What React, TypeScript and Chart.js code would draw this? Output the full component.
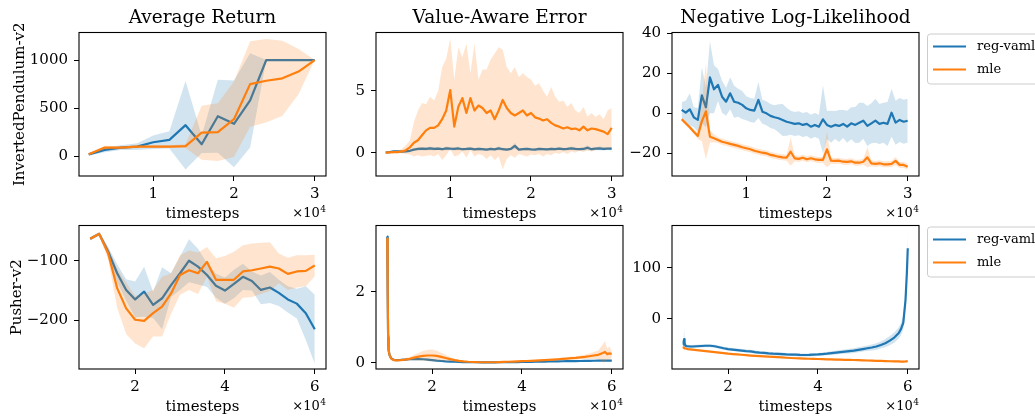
import React, { useEffect, useRef } from 'react';
import { Chart, registerables } from 'chart.js';

Chart.register(...registerables);

const FONT = "'DejaVu Serif', serif";
const BLUE = '#1f77b4';
const ORANGE = '#ff7f0e';
const BLUE_FILL = 'rgba(31,119,180,0.2)';
const ORANGE_FILL = 'rgba(255,127,14,0.2)';

const seriesNames = ['reg-vaml', 'mle'];
const panelTitles = ['Average Return', 'Value-Aware Error', 'Negative Log-Likelihood'];
const envNames = ['InvertedPendulum-v2', 'Pusher-v2'];
const xLabel = 'timesteps';
const xOffsetExp = '4';

// ---------- tick values ----------
const ipXTicks = [10000, 20000, 30000];
const puXTicks = [20000, 40000, 60000];
const retIpYTicks = [0, 500, 1000];
const vaeIpYTicks = [0, 5];
const nllIpYTicks = [-20, 0, 20, 40];
const retPuYTicks = [-200, -100];
const vaePuYTicks = [0, 2];
const nllPuYTicks = [0, 100];

// ---------- InvertedPendulum: Average Return ----------
const retIpX = [2000, 4000, 6000, 8000, 10000, 12000, 14000, 16000, 18000, 20000, 22000, 24000, 26000, 28000, 30000];
const retIpVaml = [20, 66, 90, 100, 146, 170, 323, 125, 416, 337, 580, 1000, 1000, 1000, 1000];
const retIpVamlStd = [15, 25, 25, 35, 70, 90, 460, 90, 380, 450, 490, 0, 0, 0, 0];
const retIpMle = [20, 90, 90, 100, 100, 100, 105, 245, 250, 385, 750, 785, 810, 880, 1000];
const retIpMleStd = [10, 20, 15, 15, 15, 15, 20, 280, 300, 392, 444, 433, 390, 235, 0];

// ---------- InvertedPendulum: dense x ----------
const ipDenseX = [2000, 2500, 3000, 3500, 4000, 4500, 5000, 5500, 6000, 6500, 7000, 7500, 8000, 8500, 9000, 9500, 10000, 10500, 11000, 11500, 12000, 12500, 13000, 13500, 14000, 14500, 15000, 15500, 16000, 16500, 17000, 17500, 18000, 18500, 19000, 19500, 20000, 20500, 21000, 21500, 22000, 22500, 23000, 23500, 24000, 24500, 25000, 25500, 26000, 26500, 27000, 27500, 28000, 28500, 29000, 29500, 30000];

// Value-Aware Error (InvertedPendulum)
const vaeIpVaml = [0.0, 0.05, 0.1, 0.1, 0.08, 0.1, 0.15, 0.25, 0.3, 0.32, 0.3, 0.35, 0.3, 0.33, 0.28, 0.35, 0.32, 0.3, 0.34, 0.28, 0.3, 0.33, 0.27, 0.3, 0.28, 0.25, 0.3, 0.27, 0.35, 0.28, 0.25, 0.3, 0.55, 0.25, 0.28, 0.3, 0.27, 0.25, 0.3, 0.28, 0.26, 0.3, 0.28, 0.33, 0.28, 0.3, 0.35, 0.3, 0.28, 0.3, 0.4, 0.28, 0.32, 0.35, 0.3, 0.33, 0.32];
const vaeIpVamlStd = [0.02, 0.03, 0.05, 0.05, 0.05, 0.06, 0.08, 0.1, 0.12, 0.12, 0.12, 0.15, 0.12, 0.12, 0.1, 0.15, 0.12, 0.12, 0.14, 0.1, 0.12, 0.12, 0.1, 0.12, 0.1, 0.1, 0.12, 0.1, 0.15, 0.12, 0.1, 0.1, 0.25, 0.1, 0.1, 0.12, 0.1, 0.1, 0.12, 0.1, 0.1, 0.12, 0.1, 0.12, 0.1, 0.12, 0.15, 0.12, 0.1, 0.12, 0.2, 0.1, 0.12, 0.15, 0.12, 0.12, 0.12];
const vaeIpMle = [0.0, 0.03, 0.05, 0.05, 0.1, 0.2, 0.43, 0.8, 1.0, 1.4, 1.8, 2.0, 2.0, 2.2, 2.7, 3.4, 5.05, 2.1, 3.7, 4.4, 3.2, 4.4, 3.4, 3.8, 3.6, 3.2, 3.4, 2.7, 3.4, 4.25, 3.6, 3.2, 3.0, 3.2, 3.4, 3.0, 3.2, 2.85, 2.75, 2.6, 2.7, 2.4, 2.2, 2.1, 1.95, 2.05, 1.9, 1.95, 1.8, 2.1, 1.8, 1.95, 1.9, 1.8, 1.7, 1.5, 2.0];
const vaeIpMleHi = [0.1, 0.1, 0.15, 0.15, 0.3, 0.6, 1.0, 2.5, 3.4, 4.0, 3.9, 4.5, 4.2, 5.0, 6.9, 7.6, 9.2, 5.9, 8.5, 7.7, 8.8, 6.4, 8.8, 5.9, 6.7, 6.7, 7.5, 8.0, 8.5, 8.3, 6.9, 6.4, 6.9, 6.1, 6.4, 6.1, 5.9, 5.4, 5.6, 5.0, 4.5, 5.3, 4.5, 4.1, 4.2, 3.7, 4.0, 3.4, 3.2, 3.7, 2.9, 3.2, 2.9, 3.1, 2.7, 3.4, 3.6];
const vaeIpMleLo = [-0.05, -0.05, -0.05, -0.05, -0.05, -0.1, -0.15, -0.3, -0.2, -0.3, -0.25, -0.2, -0.3, -0.1, -0.6, -0.2, 0.3, -0.3, -0.2, 0.1, -0.4, 0.2, -0.3, -0.1, -0.2, -0.5, -0.2, -0.6, -0.3, -1.35, -0.5, -0.2, -0.4, -0.1, -0.2, -0.3, -0.15, -0.2, -0.1, -0.3, -0.1, -0.2, 0.0, -0.1, 0.05, -0.1, 0.1, 0.0, 0.15, 0.05, 0.2, 0.1, 0.2, 0.25, 0.3, 0.2, 0.4];

// Negative Log-Likelihood (InvertedPendulum)
const nllIpVaml = [1.7, 0.3, 2.0, -2.0, -3.3, 9.0, 3.0, 18.0, 12.0, 14.2, 8.3, 5.8, 10.0, 5.8, 5.3, 4.2, 2.5, 1.7, 1.3, 6.7, 0.8, 0.0, -1.3, -2.0, -2.5, -3.3, -4.2, -4.7, -5.3, -5.0, -5.8, -5.3, -6.7, -5.8, -6.7, -3.0, -5.8, -6.7, -5.8, -6.3, -5.3, -6.7, -5.0, -5.8, -4.7, -3.7, -6.3, -5.0, -3.7, -5.3, -4.7, -5.3, 0.3, -4.7, -3.3, -4.2, -3.7];
const nllIpVamlStd = [4, 6, 8, 5, 6, 14, 10, 18, 12, 8, 8, 7, 8, 8, 7, 7, 6, 6, 6, 9, 6, 6, 6, 6, 7, 8, 7, 6, 6, 6, 6, 6, 6, 6, 6, 17, 7, 8, 7, 8, 7, 8, 8, 9, 10, 9, 10, 10, 11, 10, 10, 11, 12, 11, 11, 11, 11];
const nllIpMle = [-3, -5, -7, -9.2, -11.3, -4, 1, -11.7, -12.5, -13.3, -14.2, -14.7, -15.3, -15.8, -16.3, -17, -17.5, -18, -18.7, -19.2, -19.7, -20, -20.8, -21.2, -21.7, -22, -22.2, -19.2, -22.5, -22.8, -22.2, -23, -22.5, -23, -23.3, -23.3, -18, -23.7, -23.8, -23.7, -24.2, -24.3, -24, -24.7, -24.7, -24.2, -22, -25, -25.3, -25, -25.5, -25.5, -25.3, -23.8, -25.8, -25.8, -26.7];
const nllIpMleStd = [1, 1, 1, 1.2, 1.5, 10, 24, 3, 2, 1.5, 1.5, 1.5, 1.5, 1.5, 1.5, 1.5, 1.5, 1.5, 1.5, 1.5, 1.5, 1.5, 1.5, 1.5, 1.5, 1.5, 1.5, 7, 1.5, 1.5, 1.5, 1.5, 1.5, 1.5, 1.5, 1.5, 9, 1.5, 1.5, 1.5, 1.5, 1.5, 1.5, 1.5, 1.5, 1.5, 5, 1.5, 1.5, 1.5, 1.5, 1.5, 1.5, 2, 1.5, 1.5, 1.5];

// ---------- Pusher: Average Return ----------
const retPuX = [10000, 12000, 14000, 16000, 18000, 20000, 22000, 24000, 26000, 28000, 30000, 32000, 34000, 36000, 38000, 40000, 42000, 44000, 46000, 48000, 50000, 52000, 54000, 56000, 58000, 60000];
const retPuVaml = [-63, -55, -85, -121, -149, -165, -152, -174, -163, -141, -121, -100, -110, -124, -142, -150, -139, -127, -134, -149, -145, -154, -165, -172, -188, -215];
const retPuVamlStd = [3, 3, 8, 15, 18, 30, 42, 22, 52, 20, 28, 36, 30, 20, 20, 22, 24, 22, 16, 24, 26, 22, 22, 25, 45, 58];
const retPuMle = [-63, -55, -88, -146, -180, -199, -201, -188, -177, -155, -124, -116, -121, -102, -132, -132, -132, -118, -116, -113, -110, -113, -122, -118, -117, -108];
const retPuMleStd = [2, 3, 10, 33, 43, 40, 46, 39, 50, 34, 33, 33, 35, 25, 36, 40, 47, 44, 45, 43, 41, 25, 27, 27, 26, 18];

// ---------- Pusher: dense x ----------
const puDenseX = [10000, 10100, 10200, 10300, 10500, 10750, 11000, 11500, 12000, 13000, 14000, 15000, 16000, 17000, 18000, 19000, 20000, 21000, 22000, 23000, 24000, 25000, 26000, 27000, 28000, 29000, 30000, 31000, 32000, 33000, 34000, 35000, 36000, 37000, 38000, 39000, 40000, 41000, 42000, 43000, 44000, 45000, 46000, 47000, 48000, 49000, 50000, 51000, 52000, 53000, 54000, 55000, 56000, 57000, 58000, 58500, 59000, 59500, 59800, 60000];

// Value-Aware Error (Pusher)
const vaePuVaml = [3.55, 2.0, 0.7, 0.35, 0.22, 0.15, 0.11, 0.08, 0.07, 0.075, 0.085, 0.095, 0.1, 0.1, 0.095, 0.085, 0.07, 0.055, 0.045, 0.035, 0.03, 0.025, 0.02, 0.015, 0.012, 0.01, 0.01, 0.008, 0.008, 0.008, 0.008, 0.01, 0.01, 0.012, 0.014, 0.016, 0.018, 0.02, 0.022, 0.025, 0.028, 0.03, 0.032, 0.034, 0.036, 0.038, 0.04, 0.042, 0.044, 0.046, 0.048, 0.05, 0.052, 0.054, 0.056, 0.057, 0.058, 0.058, 0.058, 0.058];
const vaePuVamlStd = [0.1, 0.08, 0.05, 0.03, 0.02, 0.02, 0.015, 0.015, 0.015, 0.015, 0.015, 0.015, 0.015, 0.015, 0.015, 0.015, 0.015, 0.012, 0.012, 0.012, 0.012, 0.012, 0.012, 0.012, 0.012, 0.012, 0.012, 0.012, 0.012, 0.012, 0.012, 0.012, 0.012, 0.012, 0.012, 0.012, 0.012, 0.012, 0.012, 0.012, 0.012, 0.012, 0.012, 0.012, 0.012, 0.012, 0.012, 0.012, 0.012, 0.012, 0.012, 0.012, 0.012, 0.012, 0.012, 0.012, 0.012, 0.012, 0.012, 0.012];
const vaePuMle = [3.5, 2.0, 0.75, 0.38, 0.22, 0.14, 0.1, 0.07, 0.065, 0.07, 0.085, 0.11, 0.14, 0.17, 0.19, 0.2, 0.2, 0.19, 0.16, 0.13, 0.1, 0.07, 0.05, 0.035, 0.025, 0.018, 0.012, 0.01, 0.01, 0.01, 0.01, 0.015, 0.02, 0.025, 0.03, 0.035, 0.04, 0.045, 0.05, 0.055, 0.062, 0.07, 0.078, 0.087, 0.095, 0.105, 0.115, 0.125, 0.135, 0.15, 0.16, 0.18, 0.2, 0.22, 0.27, 0.3, 0.24, 0.26, 0.25, 0.25];
const vaePuMleStd = [0.12, 0.1, 0.05, 0.03, 0.03, 0.03, 0.025, 0.02, 0.02, 0.025, 0.035, 0.05, 0.08, 0.11, 0.14, 0.16, 0.17, 0.15, 0.12, 0.09, 0.06, 0.04, 0.025, 0.015, 0.012, 0.01, 0.01, 0.01, 0.01, 0.01, 0.01, 0.01, 0.01, 0.012, 0.012, 0.015, 0.015, 0.015, 0.018, 0.02, 0.02, 0.025, 0.025, 0.03, 0.03, 0.035, 0.035, 0.04, 0.045, 0.05, 0.06, 0.08, 0.1, 0.12, 0.25, 0.3, 0.15, 0.2, 0.12, 0.1];

// Negative Log-Likelihood (Pusher)
const nllPuVaml = [-51, -45, -40, -48, -53, -54, -54, -54.5, -54.5, -54, -53.5, -53, -53, -54, -56, -58, -59.5, -60.5, -61.5, -62.5, -63.5, -64, -65.5, -66.5, -67, -68, -68.6, -69, -69.5, -70, -70.3, -70.6, -71, -71.2, -71, -70.5, -70, -69.3, -68.5, -67.5, -66.5, -65.4, -64.5, -63.5, -62.5, -61, -59.5, -58, -56.5, -54.5, -51.5, -48, -43, -37, -28, -20, -8, 37, 90, 138];
const nllPuVamlStd = [8, 10, 20, 8, 4, 3, 3, 3, 3, 3, 3, 3, 3, 3, 3, 3, 3, 3, 3, 3, 3, 3, 3, 3, 3, 3, 3, 3, 3, 3, 3, 3, 3, 3, 3, 3, 3, 3, 3, 3.5, 3.5, 4, 4, 4.5, 4.5, 5, 5, 5.5, 6, 6.5, 7, 8, 9, 10, 11, 12, 13, 14, 18, 25, 30];
const nllPuMle = [-56, -57, -57.5, -58, -58.5, -59, -59.5, -60, -60.5, -61.5, -62.5, -63.5, -64.5, -65.5, -66.5, -67.5, -68.5, -69.3, -70, -70.7, -71.5, -72.2, -72.8, -73.4, -74, -74.5, -75, -75.5, -76, -76.5, -77, -77.5, -77.8, -78.2, -78.5, -78.8, -79, -79.3, -79.6, -79.9, -80.2, -80.4, -80.6, -80.8, -81, -81.3, -81.6, -81.9, -82.2, -82.5, -82.8, -83.1, -83.4, -83.6, -83.8, -84, -84, -83.8, -83.5, -83];
const nllPuMleStd = [5, 3, 2, 2, 1.5, 1.5, 1.5, 1.5, 1.5, 1.5, 1.5, 1.5, 1.5, 1.5, 1.5, 1.5, 1.5, 1.5, 1.5, 1.5, 1.5, 1.5, 1.5, 1.5, 1.5, 1.5, 1.5, 1.5, 1.5, 1.5, 1.5, 1.5, 1.5, 1.5, 1.5, 1.5, 1.5, 1.5, 1.5, 1.5, 1.5, 1.5, 1.5, 1.5, 1.5, 1.5, 1.5, 1.5, 1.5, 1.5, 1.5, 1.5, 1.5, 1.5, 1.5, 1.5, 1.5, 1.5, 1.5, 1.5];

// ---------- layout (positions, not data) ----------
const W = 1035;
const H = 417;
const YW = 60;
const XH = 30;
const COLS: [number, number][] = [[79, 326], [376, 623], [672, 919]];
const ROWS: [number, number][] = [[32.5, 176], [225.5, 369]];

type Series = { mean: number[]; std?: number[]; lo?: number[]; hi?: number[] };
type Spec = {
  x: number[];
  blue: Series;
  orange: Series;
  xRange: [number, number];
  yRange: [number, number];
  xTicks: number[];
  yTicks: number[];
  col: number;
  row: number;
  title?: string;
  ylabel?: string;
  ylabelX?: number;
  legend?: boolean;
};

const panels: Spec[] = [
  { x: retIpX, blue: { mean: retIpVaml, std: retIpVamlStd }, orange: { mean: retIpMle, std: retIpMleStd }, xRange: [800, 31400], yRange: [-205, 1286], xTicks: ipXTicks, yTicks: retIpYTicks, col: 0, row: 0, title: panelTitles[0], ylabel: envNames[0], ylabelX: 20 },
  { x: ipDenseX, blue: { mean: vaeIpVaml, std: vaeIpVamlStd }, orange: { mean: vaeIpMle, lo: vaeIpMleLo, hi: vaeIpMleHi }, xRange: [800, 31400], yRange: [-1.88, 9.69], xTicks: ipXTicks, yTicks: vaeIpYTicks, col: 1, row: 0, title: panelTitles[1] },
  { x: ipDenseX, blue: { mean: nllIpVaml, std: nllIpVamlStd }, orange: { mean: nllIpMle, std: nllIpMleStd }, xRange: [800, 31400], yRange: [-31.35, 40.4], xTicks: ipXTicks, yTicks: nllIpYTicks, col: 2, row: 0, title: panelTitles[2], legend: true },
  { x: retPuX, blue: { mean: retPuVaml, std: retPuVamlStd }, orange: { mean: retPuMle, std: retPuMleStd }, xRange: [7500, 62500], yRange: [-281.7, -40.9], xTicks: puXTicks, yTicks: retPuYTicks, col: 0, row: 1, ylabel: envNames[1], ylabelX: 17.5 },
  { x: puDenseX, blue: { mean: vaePuVaml, std: vaePuVamlStd }, orange: { mean: vaePuMle, std: vaePuMleStd }, xRange: [7500, 62500], yRange: [-0.18, 3.865], xTicks: puXTicks, yTicks: vaePuYTicks, col: 1, row: 1 },
  { x: puDenseX, blue: { mean: nllPuVaml, std: nllPuVamlStd }, orange: { mean: nllPuMle, std: nllPuMleStd }, xRange: [7500, 62500], yRange: [-98.6, 182.7], xTicks: puXTicks, yTicks: nllPuYTicks, col: 2, row: 1, legend: true },
];

function fmt(v: number): string {
  return v < 0 ? '\u2212' + String(Math.abs(v)) : String(v);
}

function pts(xs: number[], ys: number[]) {
  return xs.map((x, i) => ({ x, y: ys[i] }));
}

function bounds(s: Series): [number[], number[]] {
  if (s.lo && s.hi) return [s.lo, s.hi];
  const sd = s.std || s.mean.map(() => 0);
  return [s.mean.map((m, i) => m - sd[i]), s.mean.map((m, i) => m + sd[i])];
}

function seriesSets(xs: number[], s: Series, color: string, fill: string, base: number, label: string) {
  const [lo, hi] = bounds(s);
  return [
    { label: label + ' hi', data: pts(xs, hi), fill: '+1', backgroundColor: fill, borderColor: 'rgba(0,0,0,0)', borderWidth: 0, pointRadius: 0, order: base + 2 },
    { label: label + ' lo', data: pts(xs, lo), fill: false, borderColor: 'rgba(0,0,0,0)', borderWidth: 0, pointRadius: 0, order: base + 1 },
    { label, data: pts(xs, s.mean), fill: false, borderColor: color, borderWidth: 2.2, pointRadius: 0, order: base, borderJoinStyle: 'round', borderCapStyle: 'butt' },
  ];
}

function makeConfig(spec: Spec): any {
  const [l, r] = COLS[spec.col];
  const [t, b] = ROWS[spec.row];
  const decor = {
    id: 'decor' + spec.col + spec.row,
    afterDraw(chart: any) {
      const ctx = chart.ctx as CanvasRenderingContext2D;
      const a = chart.chartArea;
      ctx.save();
      ctx.strokeStyle = '#000';
      ctx.lineWidth = 1.1;
      ctx.strokeRect(a.left, a.top, a.right - a.left, a.bottom - a.top);
      ctx.fillStyle = '#000';
      const cx = (a.left + a.right) / 2;
      if (spec.title) {
        ctx.font = `18.5px ${FONT}`;
        ctx.textAlign = 'center';
        ctx.textBaseline = 'alphabetic';
        ctx.fillText(spec.title, cx, a.top - 9.5);
      }
      ctx.font = `15px ${FONT}`;
      ctx.textAlign = 'center';
      ctx.textBaseline = 'alphabetic';
      ctx.fillText(xLabel, cx, a.bottom + 42);
      ctx.textAlign = 'right';
      ctx.font = `9px ${FONT}`;
      const w4 = ctx.measureText(xOffsetExp).width;
      ctx.fillText(xOffsetExp, a.right, a.bottom + 36);
      ctx.font = `13px ${FONT}`;
      ctx.fillText('\u00d710', a.right - w4 - 0.5, a.bottom + 41);
      if (spec.ylabel) {
        ctx.save();
        ctx.translate(spec.ylabelX || 20, (a.top + a.bottom) / 2);
        ctx.rotate(-Math.PI / 2);
        ctx.font = `15px ${FONT}`;
        ctx.textAlign = 'center';
        ctx.textBaseline = 'middle';
        ctx.fillText(spec.ylabel, 0, 0);
        ctx.restore();
      }
      if (spec.legend) {
        const bx = a.right + 8;
        const by = a.top + 1;
        ctx.beginPath();
        (ctx as any).roundRect(bx + 0.5, by + 0.5, 140, 50, 3);
        ctx.fillStyle = 'rgba(255,255,255,0.8)';
        ctx.fill();
        ctx.strokeStyle = '#cccccc';
        ctx.lineWidth = 1;
        ctx.stroke();
        const colors = [BLUE, ORANGE];
        const ys = [by + 13, by + 36];
        ctx.font = `13px ${FONT}`;
        ctx.textAlign = 'left';
        ctx.textBaseline = 'middle';
        seriesNames.forEach((name, i) => {
          ctx.beginPath();
          ctx.moveTo(bx + 6, ys[i]);
          ctx.lineTo(bx + 39, ys[i]);
          ctx.strokeStyle = colors[i];
          ctx.lineWidth = 2.2;
          ctx.stroke();
          ctx.fillStyle = '#000';
          ctx.fillText(name, bx + 50, ys[i]);
        });
      }
      ctx.restore();
    },
  };

  const tickFont = { family: FONT, size: 15 };
  const grid = { display: true, drawOnChartArea: false, drawTicks: true, tickLength: 5, color: '#000', lineWidth: 1 };

  return {
    type: 'line',
    data: {
      datasets: [
        ...seriesSets(spec.x, spec.blue, BLUE, BLUE_FILL, 4, seriesNames[0]),
        ...seriesSets(spec.x, spec.orange, ORANGE, ORANGE_FILL, 1, seriesNames[1]),
      ],
    },
    options: {
      responsive: false,
      maintainAspectRatio: false,
      animation: false,
      devicePixelRatio: 1,
      events: [],
      layout: { padding: { left: l - YW, top: t, right: W - r, bottom: H - b - XH } },
      plugins: {
        legend: { display: false },
        tooltip: { enabled: false },
        title: { display: false },
      },
      elements: { point: { radius: 0 }, line: { tension: 0 } },
      scales: {
        x: {
          type: 'linear',
          min: spec.xRange[0],
          max: spec.xRange[1],
          afterBuildTicks: (s: any) => { s.ticks = spec.xTicks.map((v) => ({ value: v })); },
          afterFit: (s: any) => { s.height = XH; s.paddingLeft = 0; s.paddingRight = 0; },
          ticks: { font: tickFont, color: '#000', padding: 4, maxRotation: 0, autoSkip: false, callback: (v: number) => String(v / 10000) },
          grid,
          border: { display: false },
        },
        y: {
          type: 'linear',
          min: spec.yRange[0],
          max: spec.yRange[1],
          afterBuildTicks: (s: any) => { s.ticks = spec.yTicks.map((v) => ({ value: v })); },
          afterFit: (s: any) => { s.width = YW; s.paddingTop = 0; s.paddingBottom = 0; },
          ticks: { font: tickFont, color: '#000', padding: 6, autoSkip: false, callback: (v: number) => fmt(v) },
          grid,
          border: { display: false },
        },
      },
    },
    plugins: [decor],
  };
}

function Panel({ spec }: { spec: Spec }) {
  const ref = useRef<HTMLCanvasElement | null>(null);
  useEffect(() => {
    if (!ref.current) return;
    const chart = new Chart(ref.current, makeConfig(spec));
    return () => chart.destroy();
  }, [spec]);
  return (
    <canvas
      ref={ref}
      width={W}
      height={H}
      style={{ position: 'absolute', left: 0, top: 0, width: W, height: H }}
    />
  );
}

export default function App() {
  return (
    <div style={{ position: 'fixed', left: 0, top: 0, width: W, height: H, background: '#fff', overflow: 'hidden' }}>
      {panels.map((p, i) => (
        <Panel key={i} spec={p} />
      ))}
    </div>
  );
}
